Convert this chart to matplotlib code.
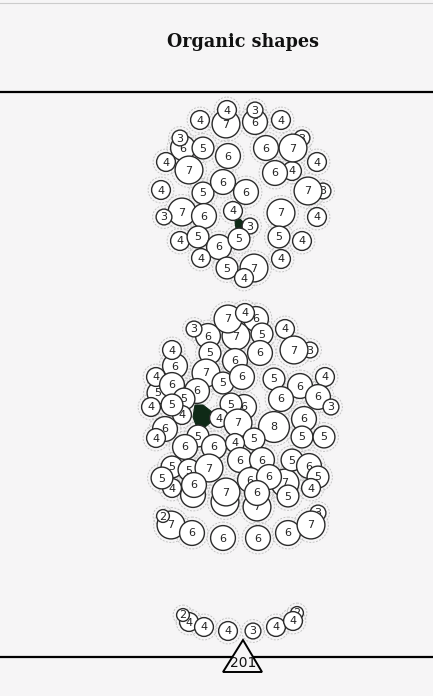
import numpy as np
import matplotlib
matplotlib.use("Agg")
import matplotlib.pyplot as plt
from matplotlib.patches import Circle, Polygon


### Data  (pixel positions, value = label)

top_x = [226, 255, 183, 302, 323, 292, 200, 227, 255, 281, 180, 203, 228, 266, 293,
         166, 189, 317, 275, 161, 203, 223, 246, 308, 182, 164, 204, 233, 281, 317,
         250, 180, 198, 219, 239, 279, 302, 201, 281, 227, 254, 244]
top_y = [124, 122, 148, 138, 191, 171, 120, 110, 110, 120, 138, 148, 156, 148, 148,
         162, 170, 162, 173, 190, 193, 182, 192, 191, 212, 217, 216, 211, 213, 217,
         226, 241, 237, 247, 239, 237, 241, 258, 259, 268, 268, 278]
top_v = [7, 6, 6, 3, 3, 4, 4, 4, 3, 4, 3, 5, 6, 6, 7,
         4, 7, 4, 6, 4, 5, 6, 6, 7, 7, 3, 6, 4, 7, 4,
         3, 4, 5, 6, 5, 5, 4, 4, 4, 5, 7, 4]

mid_x = [256, 236, 208, 175, 158, 310, 244, 193, 225, 257, 285, 318, 172,
         228, 245, 194, 262, 285, 294, 172, 210, 235, 260, 206, 156, 172, 223,
         242, 274, 300, 325, 197, 184, 281, 318, 331, 151, 182, 172, 231, 219,
         238, 274, 304, 165, 156, 198, 254, 302, 324, 185, 214, 235, 240, 262,
         292, 309, 172, 189, 209, 162, 318, 194, 226, 250, 269, 257, 288, 311,
         171, 163, 192, 223, 258, 288, 311]
mid_y = [319, 336, 336, 366, 393, 350, 407, 495, 502, 507, 483, 513, 488,
         319, 313, 329, 334, 329, 350, 350, 353, 361, 353, 373, 377, 385, 383,
         377, 379, 386, 377, 391, 399, 399, 397, 407, 407, 415, 405, 404, 418,
         423, 427, 419, 429, 438, 436, 439, 437, 437, 447, 447, 443, 460, 460,
         460, 466, 467, 470, 468, 478, 477, 485, 492, 480, 477, 493, 496, 488,
         525, 516, 533, 538, 538, 533, 525]
mid_v = [6, 7, 6, 6, 5, 3, 6, 6, 7, 7, 7, 3, 4,
         7, 4, 3, 5, 4, 7, 4, 5, 6, 6, 7, 4, 6, 5,
         6, 5, 6, 4, 6, 5, 6, 6, 3, 4, 4, 5, 5, 4,
         7, 8, 6, 6, 4, 5, 5, 5, 5, 6, 6, 4, 6, 6,
         5, 6, 5, 5, 7, 5, 5, 6, 7, 6, 6, 6, 5, 4,
         7, 2, 6, 6, 6, 6, 7]

bot_x = [297, 189, 183, 204, 228, 253, 276, 293]
bot_y = [613, 622, 615, 627, 631, 631, 627, 621]
bot_v = [2, 4, 2, 4, 4, 3, 4, 4]

# dark "core" shapes
core_top = [(235, 221), (240, 219), (244, 223), (243, 229), (236, 229)]
core_mid = [(195, 405), (203, 405), (212, 412), (211, 422), (205, 427), (196, 425), (193, 417)]

title = "Organic shapes"
total = "201"


### plot
bg = "#f6f5f6"
fig = plt.figure(figsize=(4.33, 6.96), dpi=100, facecolor=bg)
ax = fig.add_axes([0, 0, 1, 1])
ax.set_xlim(0, 433)
ax.set_ylim(696, 0)
ax.set_facecolor(bg)
ax.axis("off")

xs = top_x + mid_x + bot_x
ys = top_y + mid_y + bot_y
vs = top_v + mid_v + bot_v


def rad(v):
    return 3.4 + 1.5 * v


# dashed halos underneath everything
for x, y, v in zip(xs, ys, vs):
    ax.add_patch(Circle((x, y), rad(v) + 3.5, fc="none", ec="#c4c4c4",
                        lw=0.7, ls=(0, (2, 1.5)), zorder=1))

for pts in (core_top, core_mid):
    ax.add_patch(Polygon(pts, closed=True, fc="#0f2a17", ec="#0f2a17", lw=0.8, zorder=2))

z = 3
for x, y, v in zip(xs, ys, vs):
    ax.add_patch(Circle((x, y), rad(v), fc="white", ec="#2b2b2b", lw=1.0, zorder=z))
    ax.text(x, y + 0.5, str(v), ha="center", va="center", fontsize=8,
            color="#222222", zorder=z + 0.5)
    z += 1

# frame lines
ax.plot([0, 433], [3, 3], color="#cccccc", lw=0.8)
ax.plot([0, 433], [92, 92], color="black", lw=1.6)
ax.plot([0, 433], [657, 657], color="black", lw=1.6, zorder=z)

# total marker
ax.add_patch(Polygon([(243, 640), (223, 672), (262, 672)], closed=True,
                     fc=bg, ec="black", lw=1.4, zorder=z + 1))
ax.text(243, 663, total, ha="center", va="center", fontsize=10,
        color="#111111", zorder=z + 2)

ax.text(243, 42, title, ha="center", va="center", fontsize=14,
        family="DejaVu Serif", fontweight="bold", fontstretch="condensed",
        color="#111111")

fig.savefig("out.png", dpi=100, facecolor=bg)
